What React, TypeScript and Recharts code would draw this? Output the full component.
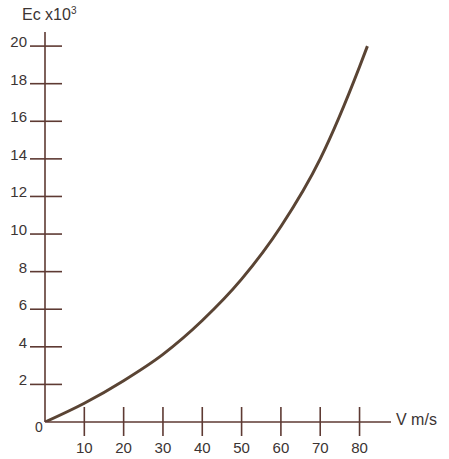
import { LineChart, Line, XAxis, YAxis } from "recharts";

// speed (m/s) vs kinetic energy (x10^3)
const speeds = [0, 10, 20, 30, 40, 50, 60, 70, 80, 82];
const energies = [0, 1.0, 2.2, 3.6, 5.4, 7.6, 10.4, 14.0, 18.9, 20];
const xTicks = [0, 10, 20, 30, 40, 50, 60, 70, 80];
const yTicks = [2, 4, 6, 8, 10, 12, 14, 16, 18, 20];

const data = speeds.map((v, i) => ({ v, ec: energies[i] }));

const AXIS = "#5e3a33";
const INK = "#3b3433";
const FONT = "'Liberation Sans', Arial, sans-serif";

function XTick(props: any) {
  const { x, y, payload } = props;
  if (payload.value === 0) {
    return (
      <text x={x - 6} y={y + 10} fill={INK} fontSize={14} fontFamily={FONT} textAnchor="middle">
        0
      </text>
    );
  }
  return (
    <g>
      <line x1={x} x2={x} y1={y - 15} y2={y + 14} stroke={AXIS} strokeWidth={1.6} />
      <text x={x} y={y + 31} fill={INK} fontSize={15} fontFamily={FONT} textAnchor="middle">
        {payload.value}
      </text>
    </g>
  );
}

function YTick(props: any) {
  const { x, y, payload } = props;
  return (
    <g>
      <line x1={x - 15} x2={x + 17} y1={y} y2={y} stroke={AXIS} strokeWidth={1.6} />
      <text x={x - 18} y={y + 1} fill={INK} fontSize={15} fontFamily={FONT} textAnchor="end">
        {payload.value}
      </text>
    </g>
  );
}

export default function App() {
  return (
    <div style={{ position: "absolute", left: 0, top: 0, width: 449, height: 459, background: "#fff" }}>
      <LineChart width={449} height={459} data={data} margin={{ top: 32, right: 58, bottom: 0, left: 0 }}>
        <XAxis
          type="number"
          dataKey="v"
          domain={[0, 88]}
          ticks={xTicks}
          interval={0}
          height={37}
          tickSize={0}
          tickMargin={0}
          tickLine={false}
          tick={XTick}
          stroke={AXIS}
          strokeWidth={1.6}
        />
        <YAxis
          type="number"
          domain={[0, 20.75]}
          ticks={yTicks}
          interval={0}
          width={45}
          tickSize={0}
          tickMargin={0}
          tickLine={false}
          tick={YTick}
          stroke={AXIS}
          strokeWidth={1.6}
          allowDataOverflow
        />
        <Line
          type="monotone"
          dataKey="ec"
          stroke="#5a4434"
          strokeWidth={3}
          dot={false}
          isAnimationActive={false}
        />
      </LineChart>
      <div
        style={{
          position: "absolute",
          left: 22,
          top: 5,
          fontFamily: FONT,
          fontSize: 16,
          color: INK,
          whiteSpace: "nowrap",
        }}
      >
        Ec x10<sup style={{ fontSize: 10 }}>3</sup>
      </div>
      <div
        style={{
          position: "absolute",
          left: 396,
          top: 411,
          fontFamily: FONT,
          fontSize: 16,
          color: INK,
          whiteSpace: "nowrap",
        }}
      >
        V m/s
      </div>
    </div>
  );
}
